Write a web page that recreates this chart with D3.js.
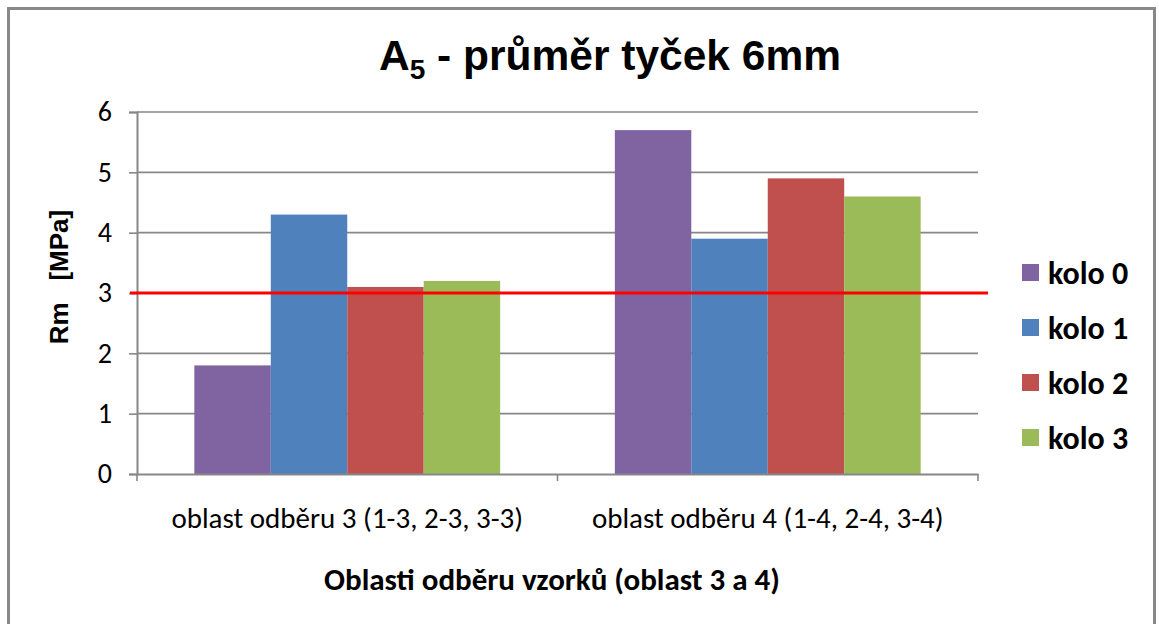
<!DOCTYPE html>
<html><head><meta charset="utf-8">
<script src="https://cdn.jsdelivr.net/npm/d3@7"></script>
<style>body{margin:0;background:#fff}svg{display:block}</style>
</head><body>
<svg id="c" width="1159" height="624"></svg>
<script>
const categories = ["oblast odběru 3 (1-3, 2-3, 3-3)", "oblast odběru 4 (1-4, 2-4, 3-4)"];
const seriesNames = ["kolo 0", "kolo 1", "kolo 2", "kolo 3"];
const kolo0 = [1.8, 5.7];
const kolo1 = [4.3, 3.9];
const kolo2 = [3.1, 4.9];
const kolo3 = [3.2, 4.6];
const yTicks = [0, 1, 2, 3, 4, 5, 6];
const limitValue = 3;
const colors = ["#8064A2", "#4F81BD", "#C0504D", "#9BBB59"];
const seriesValues = [kolo0, kolo1, kolo2, kolo3];

const svg = d3.select("#c");
const plot = {left: 137, right: 978, top: 112, bottom: 474};
const calibri = "Calibri, Carlito, Lato, sans-serif";

svg.append("rect").attr("x", 8.5).attr("y", 8.5).attr("width", 1146).attr("height", 640)
  .attr("fill", "#fff").attr("stroke", "#898989").attr("stroke-width", 3);

const x0 = d3.scaleBand().domain(categories).range([plot.left, plot.right]).padding(0);
const x1 = d3.scaleBand().domain(seriesNames).range([0, x0.bandwidth()]).paddingInner(0).paddingOuter(0.75);
const y = d3.scaleLinear().domain([0, 6]).range([plot.bottom, plot.top]);

// gridlines
svg.append("g").selectAll("line").data(yTicks.filter(d => d > 0)).join("line")
  .attr("x1", plot.left).attr("x2", plot.right)
  .attr("y1", d => y(d)).attr("y2", d => y(d))
  .attr("stroke", "#878787").attr("stroke-width", 1.6);

// y axis
const yAxis = svg.append("g").attr("transform", `translate(${plot.left},0)`)
  .call(d3.axisLeft(y).tickValues(yTicks).tickSize(8).tickPadding(17).tickFormat(d3.format("d")));
yAxis.select(".domain").attr("stroke", "#878787").attr("stroke-width", 2);
yAxis.selectAll(".tick line").attr("stroke", "#878787").attr("stroke-width", 1.6);
yAxis.selectAll(".tick text").attr("font-family", calibri).attr("font-size", 28).attr("fill", "#000");

// bars
const data = categories.map((c, i) => ({c, vals: seriesNames.map((s, j) => ({s, v: seriesValues[j][i], color: colors[j]}))}));
svg.append("g").selectAll("g").data(data).join("g")
  .attr("transform", d => `translate(${x0(d.c)},0)`)
  .selectAll("rect").data(d => d.vals).join("rect")
  .attr("x", d => x1(d.s)).attr("width", x1.bandwidth())
  .attr("y", d => y(d.v)).attr("height", d => y(0) - y(d.v))
  .attr("fill", d => d.color);

// x axis
const xAxis = svg.append("g").attr("transform", `translate(0,${plot.bottom})`)
  .call(d3.axisBottom(x0).tickSize(0).tickPadding(33));
xAxis.select(".domain").attr("stroke", "#878787").attr("stroke-width", 2);
xAxis.selectAll(".tick text").attr("font-family", calibri).attr("font-size", 29).attr("fill", "#000");
svg.append("g").selectAll("line").data([plot.left, x0(categories[1]), plot.right]).join("line")
  .attr("x1", d => d).attr("x2", d => d).attr("y1", plot.bottom).attr("y2", plot.bottom + 7)
  .attr("stroke", "#878787").attr("stroke-width", 1.6);

// limit line
svg.append("line").attr("x1", plot.left - 7).attr("x2", plot.right + 10)
  .attr("y1", y(limitValue)).attr("y2", y(limitValue))
  .attr("stroke", "#FF0000").attr("stroke-width", 3);

// title
const t = svg.append("text").attr("x", 610).attr("y", 70).attr("text-anchor", "middle")
  .attr("font-family", "Arial, 'Liberation Sans', sans-serif").attr("font-weight", "bold").attr("font-size", 42.5).attr("fill", "#000");
t.append("tspan").text("A");
t.append("tspan").attr("font-size", 28).attr("dy", 9).text("5");
t.append("tspan").attr("dy", -9).text(" - průměr tyček 6mm");

// y title
svg.append("text").attr("transform", "translate(68,277) rotate(-90)").attr("text-anchor", "middle")
  .attr("font-family", "Arial, 'Liberation Sans', sans-serif").attr("font-weight", "bold").attr("font-size", 26)
  .style("white-space", "pre").text("Rm   [MPa]");

// x title
svg.append("text").attr("x", 552).attr("y", 590).attr("text-anchor", "middle")
  .attr("font-family", calibri).attr("font-weight", "bold").attr("font-size", 31).text("Oblasti odběru vzorků (oblast 3 a 4)");

// legend
const lg = svg.append("g").selectAll("g").data(seriesNames).join("g")
  .attr("transform", (d, i) => `translate(1022,${273 + i * 55})`);
lg.append("rect").attr("x", 0).attr("y", -9).attr("width", 17).attr("height", 17).attr("fill", (d, i) => colors[i]);
lg.append("text").attr("x", 26).attr("y", 0).attr("dy", "0.35em").attr("font-family", calibri)
  .attr("font-weight", "bold").attr("font-size", 32).text(d => d);
</script>
</body></html>
